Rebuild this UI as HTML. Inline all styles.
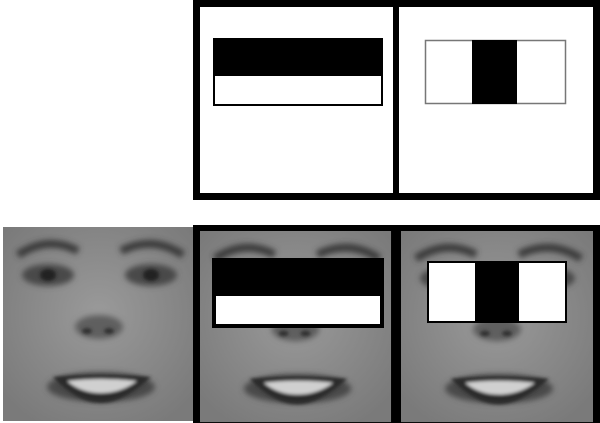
<!DOCTYPE html>
<html><head><meta charset="utf-8"><style>
html,body{margin:0;padding:0;background:#fff;width:600px;height:423px;overflow:hidden}
svg{display:block}
</style></head><body>
<svg width="600" height="423" viewBox="0 0 600 423">
<defs>
<filter id="b" x="-20%" y="-20%" width="140%" height="140%"><feGaussianBlur stdDeviation="3"/></filter>
<filter id="b2" x="-20%" y="-20%" width="140%" height="140%"><feGaussianBlur stdDeviation="1.5"/></filter>
<radialGradient id="skin" cx="50%" cy="45%" r="65%"><stop offset="0" stop-color="#9a9a9a"/><stop offset="1" stop-color="#7a7a7a"/></radialGradient>
<g id="face">
<rect x="0" y="0" width="192" height="194" fill="url(#skin)"/>
<g filter="url(#b)">
<path d="M15 28 Q45 8 75 24" stroke="#3a3a3a" stroke-width="8" fill="none"/>
<path d="M118 24 Q150 8 180 28" stroke="#3a3a3a" stroke-width="8" fill="none"/>
<ellipse cx="45" cy="48" rx="26" ry="11" fill="#4a4a4a"/>
<ellipse cx="148" cy="48" rx="26" ry="11" fill="#4a4a4a"/>
<ellipse cx="96" cy="100" rx="24" ry="12" fill="#5f5f5f"/>
<ellipse cx="98" cy="160" rx="54" ry="15" fill="#4a4a4a"/>
</g>
<g filter="url(#b2)">
<ellipse cx="45" cy="48" rx="8" ry="6" fill="#222"/>
<ellipse cx="148" cy="48" rx="8" ry="6" fill="#222"/>
<ellipse cx="84" cy="104" rx="5" ry="3" fill="#333"/>
<ellipse cx="106" cy="104" rx="5" ry="3" fill="#333"/>
<path d="M50 150 Q98 146 148 150 Q120 176 98 176 Q74 176 50 150Z" fill="#2a2a2a"/>
<path d="M64 154 Q98 150 134 154 Q118 166 98 166 Q78 166 64 154Z" fill="#d0d0d0"/>
</g>
</g>
</defs>

<g>
<rect x="196.5" y="3.5" width="400" height="193" fill="#fff" stroke="#000" stroke-width="7"/>
<rect x="393" y="3" width="6" height="196" fill="#000"/>
<g>
<rect x="213" y="38" width="170" height="37" fill="#000"/>
<rect x="214" y="75" width="168" height="30" fill="#fff" stroke="#000" stroke-width="2"/>
</g>
<g>
<rect x="425.5" y="40.5" width="140" height="63" fill="#fff" stroke="#777" stroke-width="1.5"/>
<rect x="472" y="40" width="45" height="64" fill="#000"/>
</g>
</g>

<g>
<use href="#face" x="3" y="227"/>
</g>

<g>
<rect x="193" y="225" width="407" height="198" fill="#000"/>
<use href="#face" x="200" y="231" transform="translate(200 231) scale(0.995 0.985) translate(-200 -231)"/>
<use href="#face" x="401" y="231" transform="translate(401 231) scale(1.0 0.985) translate(-401 -231)"/>
<rect x="392" y="225" width="8" height="198" fill="#000"/>
<g>
<rect x="212" y="258" width="172" height="70" fill="#000"/>
<rect x="216" y="296" width="164" height="28" fill="#fff"/>
</g>
<g>
<rect x="427" y="261" width="140" height="62" fill="#000"/>
<rect x="429" y="263" width="46" height="58" fill="#fff"/>
<rect x="519" y="263" width="46" height="58" fill="#fff"/>
</g>
</g>
</svg>
</body></html>
